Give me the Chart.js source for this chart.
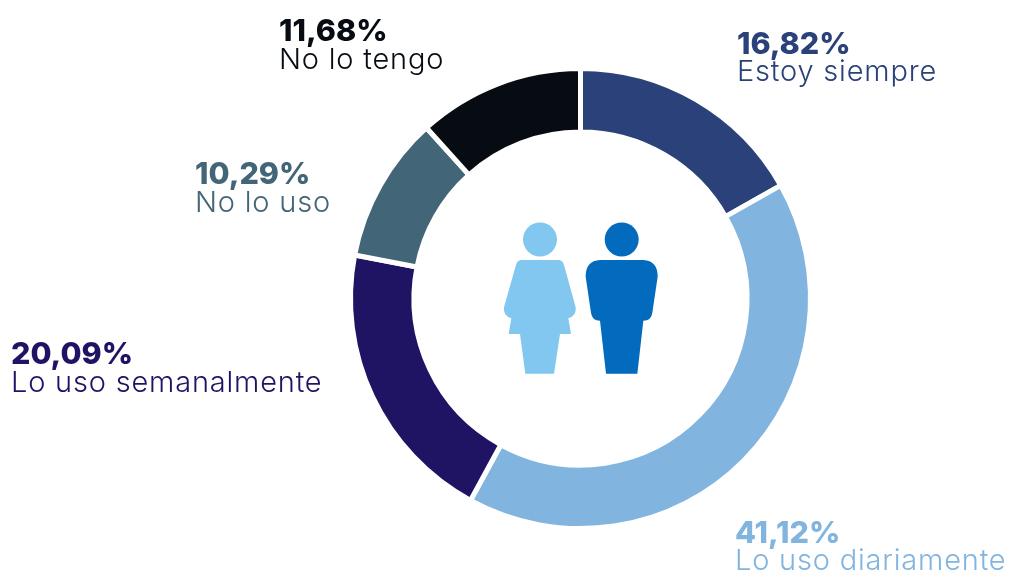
<!DOCTYPE html>
<html>
<head>
<meta charset="utf-8">
<style>
  html, body { margin: 0; padding: 0; background: #fff; overflow: hidden; }
  canvas { display: block; }
</style>
</head>
<body>
<canvas id="myChart" width="1009" height="573"></canvas>
<script src="https://cdn.jsdelivr.net/npm/chart.js@4"></script>
<script>
const categories = ["Estoy siempre", "Lo uso diariamente", "Lo uso semanalmente", "No lo uso", "No lo tengo"];
const shares = [16.82, 41.12, 20.09, 10.29, 11.68];
const sliceColors = ["#2a4179", "#81b5df", "#1f1464", "#436578", "#070c13"];
const labelSpots = [[737, 54, 81], [735, 543, 570], [11, 364, 392], [195, 184, 212], [279, 41, 69]];

// figures in the middle, path units are 3x page pixels from (480,200)
const woman = new Path2D("M125 180H235Q248 180 252 195L287 322Q290 348 265 355L273 402H240L222 521H136L120 402H86L94 355Q69 348 72 322L108 195Q112 180 125 180Z");
const man = new Path2D("M360 180H490Q533 182 533 230L517 338Q514 362 490 362L472 521H378L360 362Q336 362 333 338L317 230Q317 182 360 180Z");

const decorPlugin = {
  id: "decor",
  afterDraw(chart) {
    const ctx = chart.ctx;
    ctx.save();
    ctx.fillStyle = "#81c7f0";
    ctx.beginPath();
    ctx.arc(540, 239.5, 17, 0, Math.PI * 2);
    ctx.fill();
    ctx.fillStyle = "#036bbe";
    ctx.beginPath();
    ctx.arc(621.7, 239.5, 17, 0, Math.PI * 2);
    ctx.fill();
    ctx.translate(480, 200);
    ctx.scale(1 / 3, 1 / 3);
    ctx.fillStyle = "#81c7f0";
    ctx.fill(woman);
    ctx.fillStyle = "#036bbe";
    ctx.fill(man);
    ctx.restore();

    ctx.save();
    ctx.textBaseline = "alphabetic";
    categories.forEach((name, i) => {
      const [x, y1, y2] = labelSpots[i];
      ctx.fillStyle = sliceColors[i];
      ctx.font = "800 30.5px Inter";
      ctx.letterSpacing = "0px";
      ctx.fillText(shares[i].toFixed(2).replace(".", ",") + "%", x, y1);
      ctx.font = "300 29px Inter";
      ctx.letterSpacing = "0.8px";
      ctx.fillText(name, x, y2);
    });
    ctx.restore();
  },
};

new Chart(document.getElementById("myChart").getContext("2d"), {
  type: "doughnut",
  data: {
    labels: categories,
    datasets: [{
      data: shares,
      backgroundColor: sliceColors,
      borderColor: "#ffffff",
      borderWidth: 5,
    }],
  },
  options: {
    responsive: false,
    animation: false,
    cutout: "72.4%",
    layout: { padding: { left: 348, right: 196, top: 66, bottom: 42 } },
    plugins: { legend: { display: false }, tooltip: { enabled: false } },
  },
  plugins: [decorPlugin],
});
</script>
</body>
</html>
